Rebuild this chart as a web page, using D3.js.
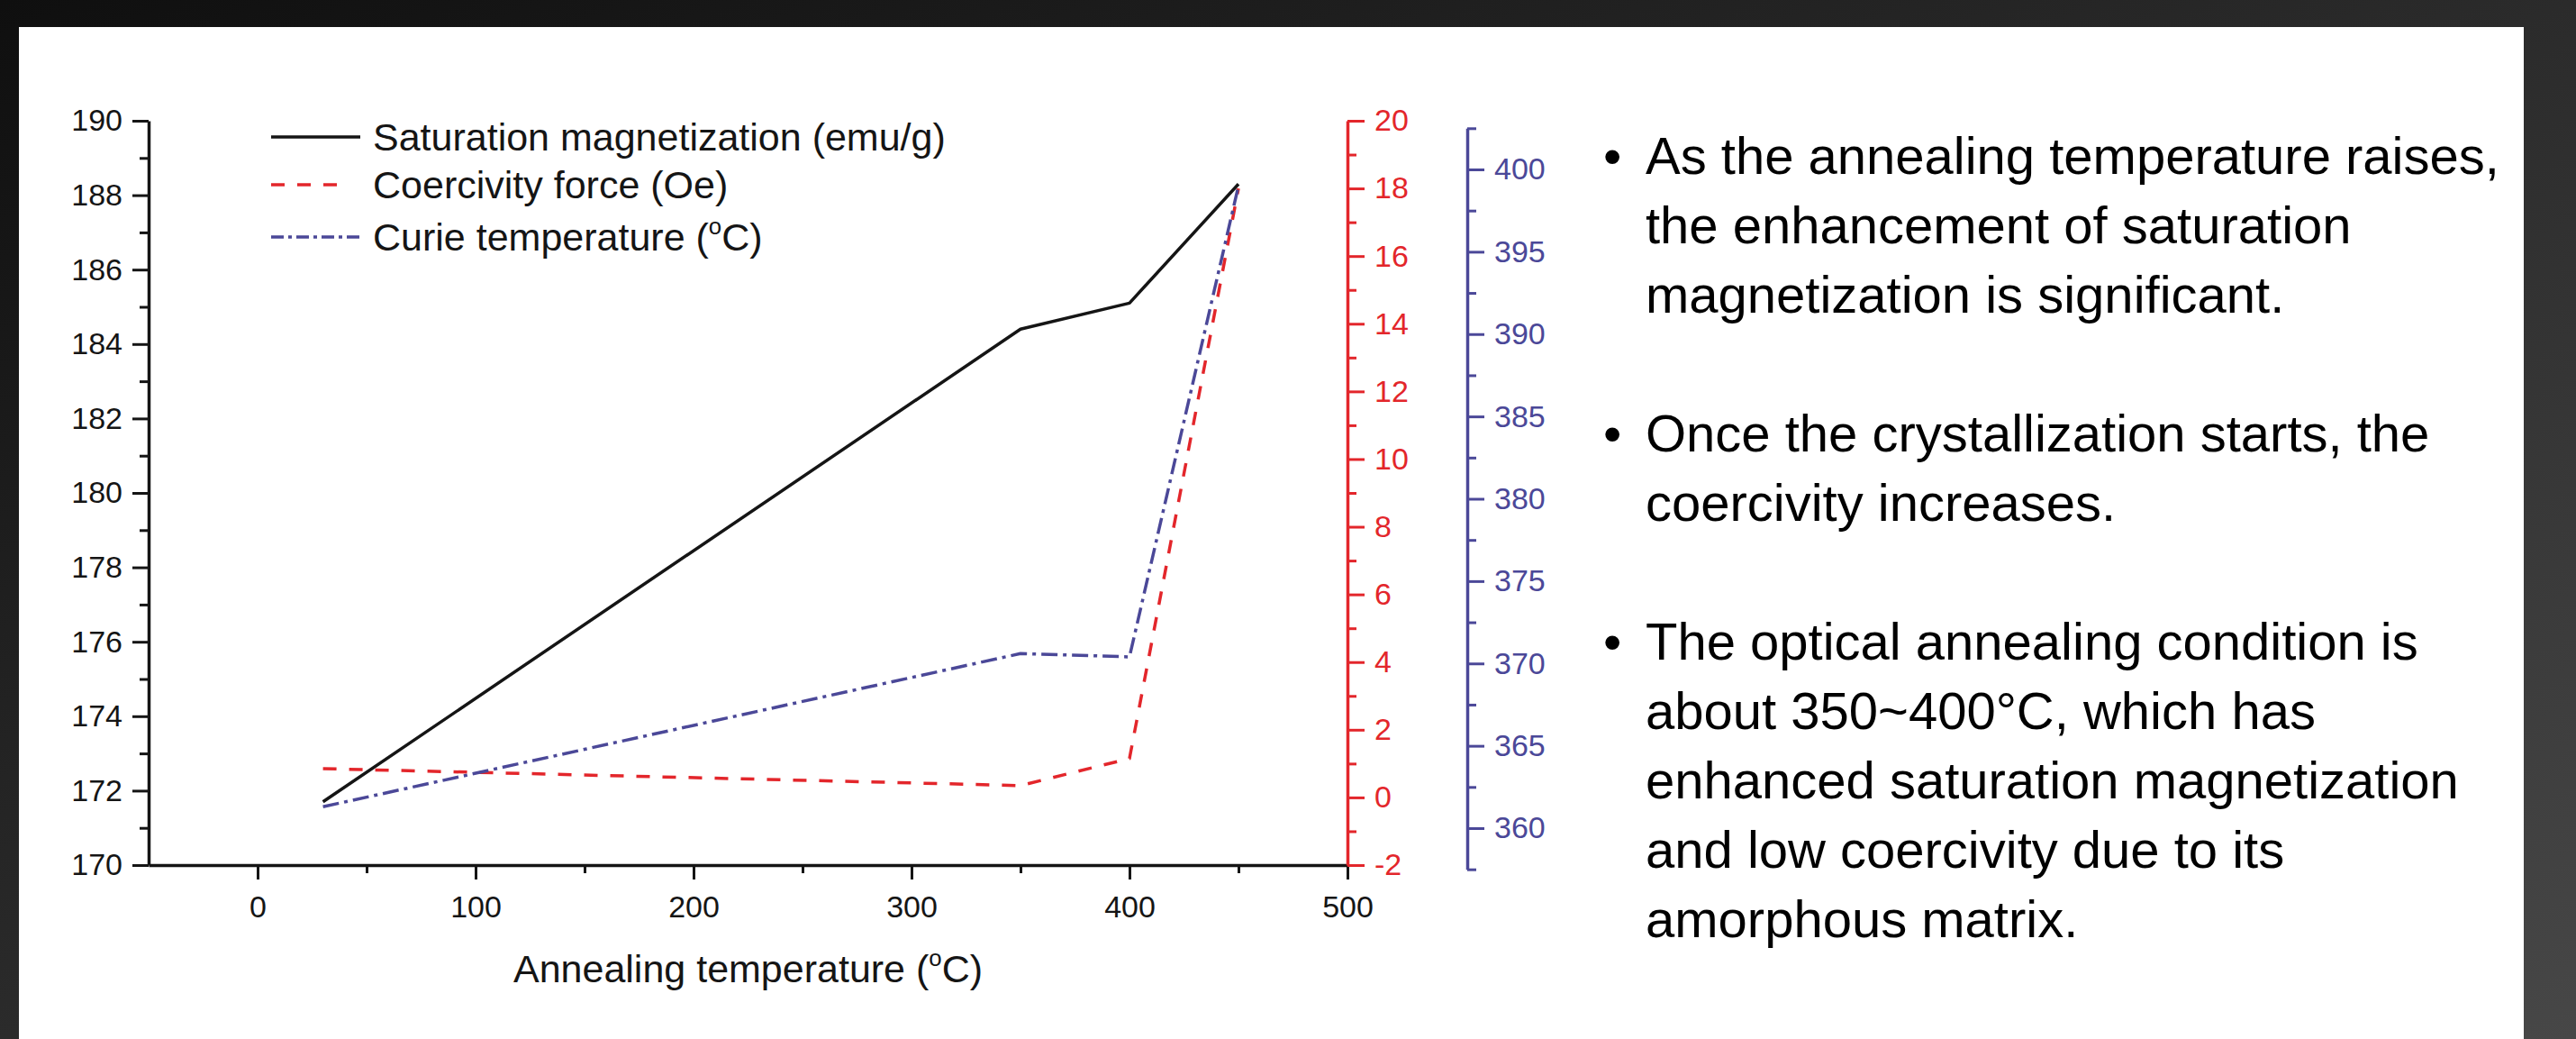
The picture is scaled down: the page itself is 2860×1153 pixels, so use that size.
<!DOCTYPE html>
<html>
<head>
<meta charset="utf-8">
<script src="https://cdn.jsdelivr.net/npm/d3@7"></script>
<style>
  html, body { margin: 0; padding: 0; background: #222; }
  svg { display: block; }
  svg text { font-family: "Liberation Sans", Arial, sans-serif; }
</style>
</head>
<body>
<svg id="slide" width="2860" height="1153"></svg>
<script>
// Annealing temperature (°C) of each sample
const temperatures = [30, 350, 400, 450];
// Series
const saturation = [171.7, 184.4, 185.1, 188.3];   // emu/g, left axis
const coercivity = [0.85, 0.35, 1.15, 18.0];        // Oe, red axis
const curie = [361.3, 370.6, 370.4, 399.0];         // °C, blue axis

// Tick values
const xTicks = [0, 100, 200, 300, 400, 500];
const xMinor = [50, 150, 250, 350, 450];
const magTicks = [170, 172, 174, 176, 178, 180, 182, 184, 186, 188, 190];
const magMinor = [171, 173, 175, 177, 179, 181, 183, 185, 187, 189];
const hcTicks = [-2, 0, 2, 4, 6, 8, 10, 12, 14, 16, 18, 20];
const hcMinor = [-1, 1, 3, 5, 7, 9, 11, 13, 15, 17, 19];
const tcTicks = [360, 365, 370, 375, 380, 385, 390, 395, 400];
const tcMinor = [357.5, 362.5, 367.5, 372.5, 377.5, 382.5, 387.5, 392.5, 397.5, 402.5];

const legendLabels = ['Saturation magnetization (emu/g)', 'Coercivity force (Oe)', 'Curie temperature (^oC)'];
const xTitle = 'Annealing temperature (^oC)';

const bullets = [
  ['As the annealing temperature raises,', 'the enhancement of saturation', 'magnetization is significant.'],
  ['Once the crystallization starts, the', 'coercivity increases.'],
  ['The optical annealing condition is', 'about 350~400\u00B0C, which has', 'enhanced saturation magnetization',
   'and low coercivity due to its', 'amorphous matrix.']
];

const BLACK = '#151515';
const RED = '#e3262b';
const BLUE = '#4b4898';

const svg = d3.select('#slide');

// slide background
const defs = svg.append('defs');
const grad = defs.append('linearGradient').attr('id', 'bg')
  .attr('x1', 0).attr('y1', 0).attr('x2', 1).attr('y2', 1);
grad.append('stop').attr('offset', 0).attr('stop-color', '#0f0f0f');
grad.append('stop').attr('offset', 1).attr('stop-color', '#474747');
svg.append('rect').attr('width', 2860).attr('height', 1153).attr('fill', 'url(#bg)');
svg.append('rect').attr('x', 21).attr('y', 30).attr('width', 2781).attr('height', 1123).attr('fill', '#fff');

// scales
const x = d3.scaleLinear().domain([-50, 500]).range([165, 1496]);
const yMag = d3.scaleLinear().domain([170, 190]).range([960, 134]);
const yHc = d3.scaleLinear().domain([-2, 20]).range([960, 134]);
const yTc = d3.scaleLinear().domain([357.5, 402.5]).range([964.7, 142.3]);

// plain hyphen for negatives, like the original figure
const plain = d => String(d);

// writes "(^oC)" style labels with a raised small o
function richText(sel, str, size) {
  const parts = str.split('^o');
  sel.append('tspan').text(parts[0]);
  if (parts.length > 1) {
    sel.append('tspan').attr('dy', -size * 0.42).attr('font-size', size * 0.6).text('o');
    sel.append('tspan').attr('dy', size * 0.42).text(parts[1]);
  }
}

function styleAxis(g, color, fontSize) {
  g.attr('font-size', null).attr('font-family', null);
  g.select('.domain').attr('stroke', color).attr('stroke-width', 3.5);
  g.selectAll('.tick line').attr('stroke', color).attr('stroke-width', 3);
  g.selectAll('.tick text').attr('fill', color).attr('font-size', fontSize);
}

function minorAxis(g, axis, color) {
  const m = g.append('g').call(axis);
  m.select('.domain').remove();
  m.selectAll('.tick line').attr('stroke', color).attr('stroke-width', 3);
}

// left axis: saturation magnetization
const gLeft = svg.append('g').attr('transform', `translate(${x.range()[0]},0)`);
gLeft.call(d3.axisLeft(yMag).tickValues(magTicks).tickFormat(plain).tickSize(18).tickSizeOuter(0).tickPadding(11));
styleAxis(gLeft, BLACK, 34);
minorAxis(gLeft, d3.axisLeft(yMag).tickValues(magMinor).tickSize(10).tickFormat(''), BLACK);

// bottom axis
const gBottom = svg.append('g').attr('transform', `translate(0,${yMag.range()[0]})`);
gBottom.call(d3.axisBottom(x).tickValues(xTicks).tickFormat(plain).tickSize(16).tickSizeOuter(0).tickPadding(18));
styleAxis(gBottom, BLACK, 34);
minorAxis(gBottom, d3.axisBottom(x).tickValues(xMinor).tickSize(9).tickFormat(''), BLACK);

// red axis: coercivity
const gRed = svg.append('g').attr('transform', `translate(${x(500)},0)`);
gRed.call(d3.axisRight(yHc).tickValues(hcTicks).tickFormat(plain).tickSize(19).tickSizeOuter(0).tickPadding(11));
styleAxis(gRed, RED, 34);
minorAxis(gRed, d3.axisRight(yHc).tickValues(hcMinor).tickSize(10).tickFormat(''), RED);

// blue axis: Curie temperature
const gBlue = svg.append('g').attr('transform', 'translate(1629,0)');
gBlue.call(d3.axisRight(yTc).tickValues(tcTicks).tickFormat(plain).tickSize(19).tickSizeOuter(0).tickPadding(11));
styleAxis(gBlue, BLUE, 34);
minorAxis(gBlue, d3.axisRight(yTc).tickValues(tcMinor).tickSize(10).tickFormat(''), BLUE);

// x axis title
svg.append('text')
  .attr('x', (x.range()[0] + x.range()[1]) / 2)
  .attr('y', 1090)
  .attr('text-anchor', 'middle')
  .attr('font-size', 43)
  .attr('fill', BLACK)
  .call(t => richText(t, xTitle, 43));

// series
const series = [
  { values: saturation, scale: yMag, color: BLACK, dash: null },
  { values: coercivity, scale: yHc, color: RED, dash: '15,14' },
  { values: curie, scale: yTc, color: BLUE, dash: '18,6,4,6' }
];

series.forEach(s => {
  const line = d3.line()
    .x((d, i) => x(temperatures[i]))
    .y(d => s.scale(d));
  svg.append('path')
    .datum(s.values)
    .attr('d', line)
    .attr('fill', 'none')
    .attr('stroke', s.color)
    .attr('stroke-width', 3.5)
    .attr('stroke-linejoin', 'round')
    .attr('stroke-dasharray', s.dash);
});

// legend
const legendRows = [152, 205, 263];
const legend = svg.append('g');
series.forEach((s, i) => {
  const row = legend.append('g').attr('transform', `translate(301,${legendRows[i]})`);
  row.append('line')
    .attr('x1', 0).attr('x2', i === 1 ? 79 : 99)
    .attr('stroke', s.color)
    .attr('stroke-width', 3.5)
    .attr('stroke-dasharray', i === 2 ? '14,5,4,5' : s.dash);
  row.append('text')
    .attr('x', 113)
    .attr('y', 15)
    .attr('font-size', 43)
    .attr('fill', BLACK)
    .call(t => richText(t, legendLabels[i], 43));
});

// bullet notes on the right
const bulletStart = [193, 501, 732];
const notes = svg.append('g').attr('font-size', 58).attr('fill', '#000');
bullets.forEach((lines, b) => {
  notes.append('text')
    .attr('x', 1780)
    .attr('y', bulletStart[b])
    .text('\u2022');
  lines.forEach((txt, j) => {
    notes.append('text')
      .attr('x', 1827)
      .attr('y', bulletStart[b] + j * 77)
      .text(txt);
  });
});
</script>
</body>
</html>
